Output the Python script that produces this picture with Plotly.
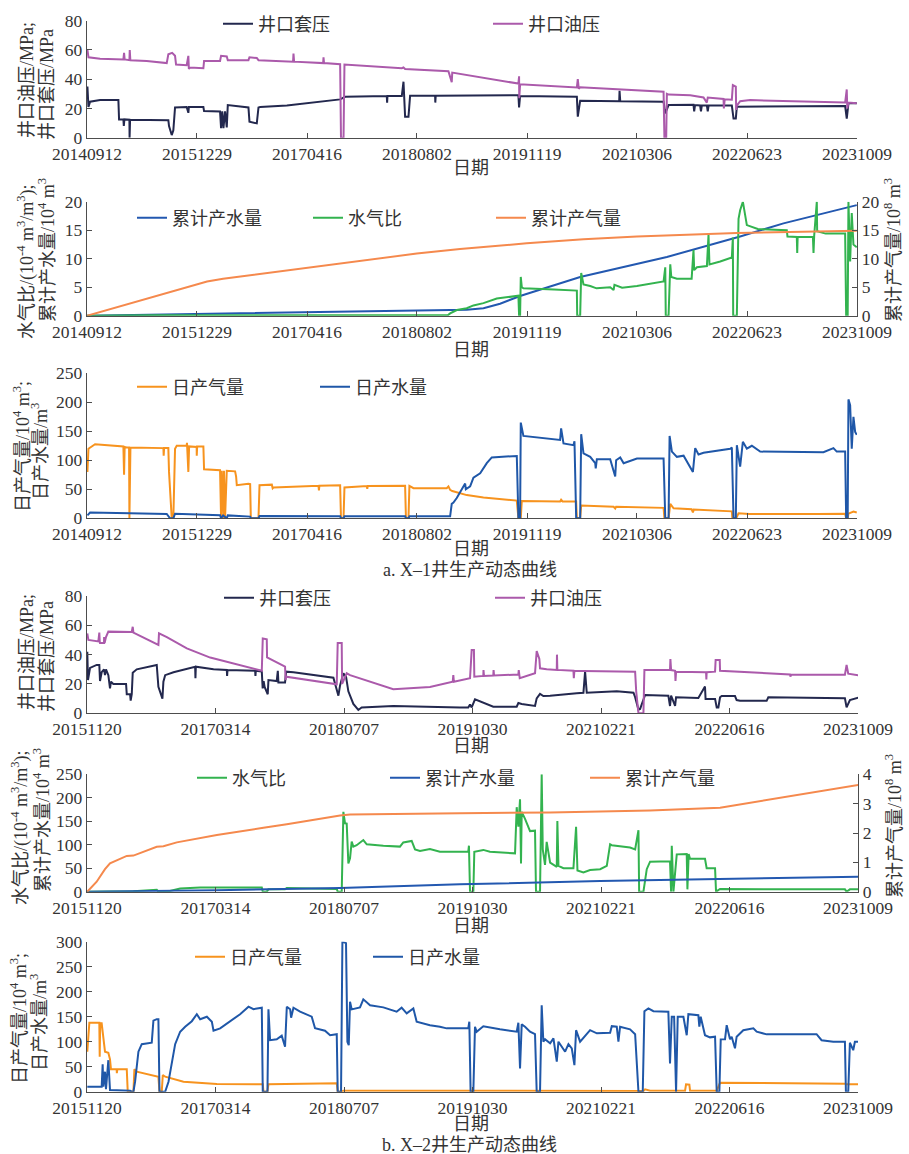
import plotly.graph_objects as go
from datetime import datetime

W, H = 909, 1154

# ---------------- tick labels ----------------
X1_TICKS = ["20140912", "20151229", "20170416", "20180802", "20191119", "20210306", "20220623", "20231009"]
X2_TICKS = ["20151120", "20170314", "20180707", "20191030", "20210221", "20220616", "20231009"]

# ---------------- X-1 well data (decimal year, value) ----------------
X1_CASING = [(2014.701, 35), (2014.713, 21), (2014.732, 24.6), (2014.85, 25.7), (2015.066, 25.7), (2015.074, 12.5),
             (2015.125, 12.5), (2015.13, 8), (2015.137, 12.5), (2015.196, 12.3), (2015.198, 0), (2015.204, 12.3),
             (2015.655, 12), (2015.663, 8), (2015.695, 1.8), (2015.714, 5), (2015.734, 20.7), (2015.871, 21),
             (2015.891, 17), (2015.897, 21), (2016.068, 21), (2016.076, 18.2), (2016.264, 18), (2016.276, 6.5),
             (2016.29, 18), (2016.304, 6.5), (2016.323, 18), (2016.343, 7), (2016.355, 22.3), (2016.598, 20.7),
             (2016.610, 11), (2016.696, 9.8), (2016.716, 20.7), (2016.736, 21), (2017.050, 22), (2017.678, 26.2),
             (2017.737, 28), (2018.228, 28.5), (2018.232, 24), (2018.236, 28.5), (2018.405, 28.5), (2018.425, 38.3),
             (2018.444, 14.4), (2018.484, 14.4), (2018.503, 28.7), (2018.798, 28.7), (2018.80, 24), (2018.805, 28.7),
             (2019.780, 29), (2019.788, 20.7), (2019.80, 28.5), (2020.468, 28), (2020.479, 14.4), (2020.507, 25.3),
             (2020.966, 25), (2020.970, 32), (2020.978, 25), (2021.489, 24.6), (2021.509, 16.6), (2021.548, 22.3),
             (2021.842, 22.5), (2021.85, 18), (2021.86, 22.3), (2021.92, 22), (2021.93, 18), (2021.94, 22),
             (2022.0, 22), (2022.01, 18), (2022.02, 22), (2022.294, 22), (2022.314, 13.2), (2022.341, 13.2),
             (2022.353, 21.2), (2023.630, 21.6), (2023.649, 13), (2023.669, 23.5), (2023.767, 23.5)]

X1_TUBING = [(2014.701, 60), (2014.713, 55), (2014.85, 54), (2015.125, 53.5), (2015.133, 58), (2015.14, 53.5),
             (2015.196, 53), (2015.200, 60), (2015.207, 53), (2015.4, 52.5), (2015.636, 51), (2015.655, 57),
             (2015.70, 58), (2015.734, 56), (2015.746, 50), (2015.871, 49.5), (2015.891, 56), (2015.897, 47),
             (2015.911, 48), (2016.068, 47.5), (2016.076, 52.4), (2016.264, 52.5), (2016.276, 56), (2016.343, 55.5),
             (2016.355, 53), (2016.598, 53), (2016.610, 55), (2016.696, 54.5), (2016.716, 53), (2017.123, 52),
             (2017.128, 57.5), (2017.135, 52), (2017.478, 51), (2017.482, 55), (2017.488, 51), (2017.678, 50.3),
             (2017.688, 0), (2017.718, 0), (2017.729, 50), (2018.405, 47.5), (2018.425, 48), (2018.444, 47),
             (2018.955, 45.5), (2018.994, 38), (2019.000, 44.5), (2019.1, 43.5), (2019.780, 37), (2019.788, 42),
             (2019.79, 27), (2019.80, 36.5), (2020.468, 34.3), (2020.479, 40), (2020.49, 33.5), (2020.507, 34.5),
             (2021.489, 31.4), (2021.499, 0), (2021.520, 0), (2021.528, 30), (2021.548, 29.5), (2021.803, 29),
             (2021.96, 27.5), (2021.999, 24), (2022.01, 27.5), (2022.196, 26.5), (2022.20, 20), (2022.21, 26.3),
             (2022.294, 26), (2022.306, 36), (2022.341, 35), (2022.345, 19), (2022.353, 22), (2022.392, 25),
             (2022.510, 25.7), (2023.630, 24), (2023.649, 33), (2023.655, 20), (2023.669, 24), (2023.767, 23.5)]

X1_CUM_GAS = [(2014.697, 0), (2015.758, 4.4), (2016.111, 6.0), (2016.30, 6.5), (2016.653, 7.2), (2016.735, 7.25),
              (2017.286, 8.4), (2017.997, 9.8), (2018.582, 10.9), (2019.092, 11.7), (2019.878, 12.7),
              (2020.546, 13.4), (2021.175, 13.9), (2022.353, 14.5), (2023.767, 14.9)]

X1_CUM_WATER = [(2014.697, 0), (2015.758, 0.25), (2017.286, 0.5), (2018.582, 0.85), (2018.975, 0.95),
                (2019.171, 1.05), (2019.368, 1.3), (2019.564, 2.1), (2019.8, 3.45), (2020.507, 6.8),
                (2021.528, 10.3), (2022.392, 13.9), (2022.903, 16.2), (2023.767, 19.4)]

X1_WGR = [(2014.697, 0), (2015.5, 0.1), (2017.0, 0.1), (2018.95, 0.1), (2018.975, 0.4), (2019.054, 1.0),
          (2019.171, 1.3), (2019.25, 1.8), (2019.368, 2.2), (2019.525, 3.0), (2019.780, 3.5), (2019.788, 0),
          (2019.80, 0), (2019.808, 6.8), (2019.82, 5.0), (2019.839, 4.8), (2020.2, 4.6), (2020.468, 4.4),
          (2020.472, 0), (2020.507, 0), (2020.519, 7.5), (2020.546, 5.5), (2020.625, 5.2), (2020.70, 4.8),
          (2020.86, 5.0), (2020.90, 4.5), (2020.91, 5.4), (2021.0, 4.9), (2021.175, 5.2), (2021.489, 6.0),
          (2021.509, 8.5), (2021.515, 0), (2021.548, 0), (2021.568, 9), (2021.58, 6.8), (2021.646, 6.5),
          (2021.82, 6.5), (2021.842, 11.5), (2021.85, 8.0), (2021.882, 8.5), (2022.0, 8.7), (2022.019, 14.2),
          (2022.03, 9.0), (2022.157, 9.5), (2022.294, 10.2), (2022.306, 13.7), (2022.31, 0), (2022.353, 0),
          (2022.373, 17), (2022.392, 18.5), (2022.424, 20), (2022.45, 17.5), (2022.471, 15.9), (2022.6, 15.2),
          (2022.942, 15), (2022.95, 13.9), (2023.06, 13.8), (2023.065, 11), (2023.07, 13.8), (2023.25, 13.8),
          (2023.257, 11), (2023.265, 14), (2023.296, 20), (2023.30, 14.8), (2023.40, 14.4), (2023.630, 14.4),
          (2023.642, 0), (2023.660, 0), (2023.669, 20), (2023.689, 9.5), (2023.708, 18), (2023.728, 12.5),
          (2023.767, 12)]

X1_DAILY_GAS = [(2014.701, 80), (2014.713, 120), (2014.791, 127.6), (2015.125, 124), (2015.133, 75), (2015.14, 123),
                (2015.164, 122), (2015.192, 122), (2015.196, 0), (2015.208, 122), (2015.597, 121), (2015.60, 108),
                (2015.605, 121), (2015.655, 121), (2015.663, 80), (2015.695, 0), (2015.714, 0), (2015.734, 120),
                (2015.754, 125), (2015.871, 125), (2015.875, 130), (2015.891, 80), (2015.90, 124), (2015.989, 123),
                (2015.99, 108), (2015.995, 124), (2016.068, 124), (2016.076, 84.5), (2016.264, 83), (2016.276, 0),
                (2016.284, 82), (2016.304, 0), (2016.31, 82), (2016.323, 0), (2016.343, 82), (2016.441, 81),
                (2016.453, 72), (2016.461, 57), (2016.598, 59.5), (2016.618, 59), (2016.626, 0), (2016.716, 0),
                (2016.728, 57), (2016.873, 58), (2016.883, 51.7), (2016.893, 53), (2017.423, 56), (2017.428, 48),
                (2017.433, 56), (2017.678, 57), (2017.688, 0), (2017.718, 0), (2017.729, 53), (2017.993, 55.5),
                (2017.998, 51), (2018.003, 55.5), (2018.444, 56), (2018.454, 0), (2018.484, 0), (2018.495, 56),
                (2018.543, 52), (2018.935, 52), (2018.955, 55), (2018.975, 49), (2019.0, 47), (2019.171, 40),
                (2019.368, 36), (2019.761, 30.5), (2019.780, 0), (2019.808, 0), (2019.820, 30), (2020.271, 29),
                (2020.283, 32), (2020.30, 29), (2020.460, 29), (2020.468, 0), (2020.507, 0), (2020.519, 22),
                (2020.9, 20), (2020.919, 17), (2020.93, 20), (2021.489, 18), (2021.499, 0), (2021.548, 0),
                (2021.568, 24.7), (2021.607, 17.2), (2021.82, 15.5), (2021.835, 10), (2021.845, 15), (2022.294, 12),
                (2022.30, 0), (2022.345, 0), (2022.373, 8.6), (2022.5, 7.5), (2023.3, 7.5), (2023.630, 7.8),
                (2023.642, 0), (2023.66, 0), (2023.669, 8), (2023.728, 11.5), (2023.767, 10)]

X1_DAILY_WATER = [(2014.701, 5), (2014.732, 9.8), (2015.2, 8.5), (2015.636, 7.5), (2015.675, 0), (2015.714, 0),
                  (2015.734, 8), (2016.264, 5.2), (2016.276, 0), (2016.30, 5), (2016.343, 0), (2016.355, 5),
                  (2016.618, 2.9), (2016.626, 0), (2016.716, 0), (2016.728, 4), (2017.678, 3.5), (2017.688, 0),
                  (2017.718, 0), (2017.729, 3.5), (2018.444, 3.5), (2018.454, 0), (2018.484, 0), (2018.495, 3.5),
                  (2018.975, 3.5), (2018.994, 25), (2019.014, 27), (2019.053, 35), (2019.152, 60), (2019.16, 50),
                  (2019.211, 55), (2019.250, 70), (2019.329, 77.6), (2019.368, 86), (2019.407, 95), (2019.466, 105),
                  (2019.564, 106), (2019.761, 107.5), (2019.780, 0), (2019.80, 0), (2019.808, 165), (2019.839, 142),
                  (2020.271, 135), (2020.283, 155), (2020.311, 129), (2020.428, 126), (2020.440, 133), (2020.46, 0),
                  (2020.507, 0), (2020.519, 145), (2020.546, 112), (2020.625, 106), (2020.684, 95), (2020.69, 86),
                  (2020.703, 102), (2020.86, 102), (2020.919, 72), (2020.93, 100), (2020.978, 105), (2021.018, 95),
                  (2021.175, 103), (2021.489, 103), (2021.509, 0), (2021.548, 0), (2021.560, 142), (2021.587, 115),
                  (2021.646, 106), (2021.725, 108), (2021.835, 80), (2021.862, 121), (2021.901, 110), (2021.960, 113),
                  (2022.275, 120), (2022.294, 122), (2022.314, 0), (2022.341, 0), (2022.353, 126), (2022.392, 89),
                  (2022.424, 132), (2022.471, 120), (2022.530, 125), (2022.628, 115), (2023.374, 114),
                  (2023.492, 121), (2023.531, 115), (2023.630, 115), (2023.642, 0), (2023.660, 0), (2023.669, 205),
                  (2023.689, 195), (2023.708, 120), (2023.728, 175), (2023.748, 149), (2023.767, 144)]

# ---------------- X-2 well data (decimal year, value) ----------------
X2_CASING = [(2015.888, 42), (2015.895, 22.7), (2015.916, 31), (2015.984, 33), (2016.011, 33), (2016.018, 22),
             (2016.035, 28), (2016.059, 30), (2016.069, 26), (2016.079, 30), (2016.103, 26), (2016.120, 17),
             (2016.13, 21.6), (2016.154, 20), (2016.284, 20), (2016.291, 13), (2016.325, 13), (2016.331, 8.6),
             (2016.342, 13), (2016.352, 27.7), (2016.393, 30), (2016.597, 33), (2016.614, 18), (2016.631, 15),
             (2016.655, 10), (2016.665, 21.6), (2016.683, 26), (2016.768, 28), (2016.938, 30.7), (2016.989, 31.8),
             (2016.992, 24), (2016.996, 31.8), (2017.177, 30), (2017.313, 29.5), (2017.316, 25.5), (2017.32, 29.5),
             (2017.603, 29), (2017.606, 25.5), (2017.61, 29), (2017.671, 28.5), (2017.675, 21.6), (2017.68, 17),
             (2017.69, 22), (2017.70, 18), (2017.732, 13), (2017.739, 22.7), (2017.824, 22), (2017.835, 29),
             (2017.841, 21), (2017.909, 21), (2017.920, 28.4), (2017.995, 28), (2018.404, 24.3), (2018.438, 15),
             (2018.455, 12), (2018.472, 19), (2018.506, 27.3), (2018.533, 25), (2018.557, 15), (2018.608, 6.4),
             (2018.659, 2.3), (2018.693, 4), (2019.017, 5), (2019.699, 4), (2019.784, 3.9), (2019.802, 6),
             (2019.819, 4), (2019.853, 9.5), (2019.938, 7), (2020.040, 4.5), (2020.279, 4.5), (2020.296, 7),
             (2020.330, 6.4), (2020.466, 5), (2020.483, 10.2), (2020.517, 13.2), (2020.551, 11.8), (2020.620, 12),
             (2020.892, 13.6), (2020.960, 14), (2020.977, 28.4), (2020.994, 14), (2021.301, 15), (2021.472, 14),
             (2021.489, 11), (2021.523, 2.5), (2021.540, 3), (2021.591, 12.5), (2021.829, 12), (2021.846, 5),
             (2021.857, 12), (2021.898, 5), (2021.908, 11), (2022.136, 10.5), (2022.204, 18.2), (2022.21, 9.8),
             (2022.307, 9.8), (2022.324, 4), (2022.341, 4), (2022.358, 10.9), (2022.375, 11.8), (2022.511, 11.8),
             (2022.528, 9), (2022.562, 8.6), (2022.835, 8.5), (2022.852, 10.9), (2023.636, 10.2), (2023.653, 4),
             (2023.687, 9), (2023.772, 10.7)]

X2_TUBING = [(2015.888, 54.5), (2015.899, 50), (2016.001, 49), (2016.011, 55), (2016.015, 49), (2016.018, 48),
             (2016.059, 48), (2016.06, 52), (2016.065, 48), (2016.079, 52), (2016.103, 55.7), (2016.342, 55.5),
             (2016.352, 59), (2016.359, 55), (2016.614, 46.6), (2016.62, 54.5), (2016.700, 52), (2016.904, 44.3),
             (2017.143, 38), (2017.671, 29), (2017.681, 51), (2017.722, 50.5), (2017.725, 38.2), (2017.909, 31.8),
             (2017.915, 22.7), (2017.920, 25), (2018.438, 19.8), (2018.448, 48), (2018.489, 48), (2018.493, 20),
             (2018.540, 27.3), (2018.574, 26), (2019.017, 16.4), (2019.392, 18), (2019.625, 21.5), (2019.631, 26),
             (2019.637, 21.5), (2019.699, 22.5), (2019.802, 23.9), (2019.819, 43.2), (2019.842, 43.2),
             (2019.846, 25), (2019.938, 25.5), (2019.94, 29.5), (2019.945, 25.5), (2020.040, 25.8), (2020.043, 29.5),
             (2020.048, 25.8), (2020.296, 26.5), (2020.30, 29.5), (2020.31, 24), (2020.466, 27.3), (2020.483, 42.5),
             (2020.510, 37), (2020.517, 30.7), (2020.585, 30), (2020.688, 29.6), (2020.690, 40), (2020.694, 29.6),
             (2020.858, 29), (2020.862, 24), (2020.868, 29), (2020.960, 28.8), (2021.489, 28.4), (2021.50, 15),
             (2021.523, 0), (2021.574, 0), (2021.584, 29.5), (2021.846, 29.5), (2021.850, 37), (2021.857, 29.5),
             (2021.898, 29), (2021.902, 22), (2021.908, 28.4), (2022.215, 28), (2022.218, 23), (2022.221, 28),
             (2022.307, 28.4), (2022.313, 36.4), (2022.355, 36.4), (2022.358, 29), (2023.074, 26.5), (2023.08, 25),
             (2023.085, 26.5), (2023.636, 26.3), (2023.653, 33), (2023.670, 27), (2023.772, 26)]

X2_CUM_GAS = [(2015.888, 0), (2015.984, 0.34), (2016.069, 0.77), (2016.120, 0.97), (2016.291, 1.22), (2016.359, 1.23),
              (2016.597, 1.53), (2016.665, 1.55), (2016.802, 1.68), (2017.211, 1.93), (2017.688, 2.18),
              (2017.927, 2.3), (2018.472, 2.6), (2018.574, 2.63), (2019.699, 2.67), (2020.620, 2.7),
              (2021.642, 2.77), (2022.358, 2.86), (2023.772, 3.64)]

X2_CUM_WATER = [(2015.888, 0), (2017.211, 3), (2018.472, 7.8), (2019.699, 15.6), (2021.131, 22.7), (2022.358, 27),
                (2023.772, 32)]

X2_WGR = [(2015.888, 0), (2016.359, 1), (2016.597, 4.3), (2016.614, 0), (2016.700, 0), (2016.768, 3), (2016.836, 7),
          (2017.040, 9.2), (2017.671, 9), (2017.681, 0), (2017.722, 0), (2017.739, 5), (2017.909, 5), (2017.927, 8),
          (2018.438, 6), (2018.448, 0), (2018.489, 0), (2018.506, 170), (2018.523, 145.6), (2018.540, 145),
          (2018.557, 60), (2018.574, 71), (2018.591, 106.5), (2018.608, 96), (2018.642, 99), (2018.710, 110),
          (2018.745, 101), (2018.915, 98), (2019.085, 96), (2019.119, 105), (2019.205, 108), (2019.239, 90),
          (2019.290, 86.6), (2019.392, 91), (2019.494, 85), (2019.699, 85), (2019.784, 85), (2019.791, 98),
          (2019.802, 0), (2019.836, 0), (2019.846, 85), (2019.938, 89), (2020.006, 85), (2020.262, 81.7),
          (2020.279, 180), (2020.296, 138.5), (2020.313, 197), (2020.323, 60), (2020.330, 170), (2020.364, 155),
          (2020.415, 129), (2020.466, 130), (2020.476, 0), (2020.517, 0), (2020.534, 250), (2020.545, 90),
          (2020.568, 57), (2020.585, 106), (2020.602, 80), (2020.620, 62), (2020.688, 53), (2020.694, 150.6),
          (2020.705, 55), (2020.756, 50), (2020.858, 50), (2020.885, 138), (2020.899, 45), (2020.960, 41),
          (2021.028, 46), (2021.131, 48), (2021.199, 55), (2021.233, 101), (2021.250, 99), (2021.437, 94),
          (2021.489, 90), (2021.523, 131), (2021.530, 0), (2021.574, 0), (2021.608, 48), (2021.642, 64),
          (2021.846, 65), (2021.857, 0), (2021.864, 98), (2021.881, 0), (2021.915, 79.5), (2022.017, 80),
          (2022.024, 5), (2022.037, 80), (2022.051, 70), (2022.204, 70), (2022.221, 50), (2022.307, 50),
          (2022.317, 0), (2022.358, 5.7), (2023.636, 5), (2023.653, 0), (2023.687, 5), (2023.772, 5)]

X2_DAILY_GAS = [(2015.888, 80), (2015.909, 138), (2016.011, 138), (2016.015, 70), (2016.02, 137), (2016.035, 137),
                (2016.045, 120), (2016.069, 80), (2016.103, 78), (2016.120, 64.7), (2016.130, 44.7), (2016.188, 45),
                (2016.19, 37), (2016.195, 45), (2016.291, 45), (2016.301, 0), (2016.359, 0), (2016.369, 45),
                (2016.393, 40), (2016.614, 30), (2016.625, 0), (2016.648, 0), (2016.659, 33.3), (2016.683, 30),
                (2016.870, 20), (2017.211, 15.3), (2017.681, 15), (2017.688, 0), (2017.729, 0), (2017.739, 15),
                (2018.438, 16.7), (2018.448, 0), (2018.489, 0), (2018.506, 2), (2019.699, 2), (2021.574, 1.3),
                (2021.591, 4.7), (2021.642, 2), (2022.0, 2), (2022.010, 14.7), (2022.044, 14), (2022.051, 2),
                (2022.324, 2), (2022.358, 18), (2023.636, 16), (2023.646, 15), (2023.772, 15)]

X2_DAILY_WATER = [(2015.888, 10), (2016.035, 10), (2016.045, 55), (2016.052, 10), (2016.069, 40), (2016.079, 5),
                  (2016.103, 63), (2016.120, 3.3), (2016.325, 2), (2016.342, 0), (2016.359, 0), (2016.376, 20),
                  (2016.410, 80), (2016.444, 95), (2016.546, 98), (2016.563, 142), (2016.597, 145), (2016.614, 145),
                  (2016.625, 0), (2016.683, 0), (2016.717, 20), (2016.751, 60), (2016.785, 95), (2016.836, 120),
                  (2016.887, 130), (2016.955, 141), (2017.006, 155), (2017.040, 145), (2017.109, 150),
                  (2017.160, 140), (2017.177, 122), (2017.245, 126.7), (2017.347, 140), (2017.449, 155),
                  (2017.535, 170), (2017.586, 165), (2017.671, 168), (2017.681, 0), (2017.729, 0), (2017.739, 165),
                  (2017.756, 103), (2017.824, 105), (2017.875, 112), (2017.909, 90), (2017.927, 170),
                  (2017.961, 165), (2017.971, 148), (2017.995, 168), (2018.063, 160), (2018.182, 150),
                  (2018.216, 127), (2018.318, 122), (2018.370, 113), (2018.438, 115), (2018.448, 0), (2018.482, 0),
                  (2018.496, 300), (2018.533, 297), (2018.547, 100), (2018.561, 93), (2018.574, 180),
                  (2018.591, 164.7), (2018.676, 168.7), (2018.710, 184.7), (2018.779, 173), (2018.915, 168.7),
                  (2019.051, 160), (2019.102, 168), (2019.154, 156.7), (2019.222, 166.7), (2019.256, 140),
                  (2019.392, 133), (2019.494, 130), (2019.563, 126.7), (2019.699, 126.7), (2019.784, 126.7),
                  (2019.795, 140), (2019.808, 0), (2019.836, 0), (2019.853, 130), (2019.870, 120), (2019.938, 131),
                  (2020.108, 124.7), (2020.279, 120), (2020.296, 138), (2020.313, 46.7), (2020.330, 134.7),
                  (2020.364, 130), (2020.415, 120), (2020.466, 115), (2020.483, 0), (2020.517, 0), (2020.534, 173),
                  (2020.551, 100), (2020.568, 105), (2020.620, 96.7), (2020.654, 106.7), (2020.688, 60),
                  (2020.705, 100), (2020.739, 90), (2020.773, 80), (2020.807, 95), (2020.841, 86.7), (2020.868, 53),
                  (2020.885, 123), (2020.926, 100), (2021.028, 123), (2021.097, 116.7), (2021.233, 118),
                  (2021.250, 131), (2021.301, 130), (2021.318, 100), (2021.335, 130), (2021.437, 124.7),
                  (2021.489, 115), (2021.523, 0), (2021.567, 0), (2021.584, 161), (2021.625, 166.7), (2021.676, 161),
                  (2021.829, 160), (2021.846, 56.7), (2021.864, 150), (2021.888, 150), (2021.908, 0), (2021.925, 150),
                  (2021.983, 150), (2022.017, 113), (2022.034, 155), (2022.136, 153), (2022.146, 130),
                  (2022.160, 150), (2022.204, 113), (2022.255, 108.7), (2022.307, 110), (2022.324, 0),
                  (2022.351, 0), (2022.365, 104.7), (2022.409, 105), (2022.426, 133), (2022.460, 105),
                  (2022.477, 110), (2022.511, 86.7), (2022.528, 110), (2022.596, 123), (2022.699, 126.7),
                  (2022.733, 120), (2022.835, 114.7), (2023.346, 115), (2023.397, 103), (2023.517, 100),
                  (2023.636, 100), (2023.646, 0), (2023.670, 0), (2023.687, 98), (2023.721, 83), (2023.738, 100),
                  (2023.772, 100)]

# ---------------- colours ----------------
C_CASING = "#23284e"
C_TUBING = "#ab5aab"
C_CUM_WATER = "#2358b0"
C_WGR = "#33b34f"
C_CUM_GAS = "#f5894d"
C_DGAS = "#f7931e"
C_DWATER = "#1f57a8"


def dt(v):
    y = int(v)
    s, e = datetime(y, 1, 1), datetime(y + 1, 1, 1)
    return s + (e - s) * (v - y)


def d8(s):
    return datetime(int(s[:4]), int(s[4:6]), int(s[6:]))


fig = go.Figure()


def add(series, name, color, xa, ya, leg):
    t, v = zip(*series)
    fig.add_trace(go.Scatter(x=[dt(a) for a in t], y=list(v), mode="lines", name=name,
                             line=dict(color=color, width=2), xaxis=xa, yaxis=ya, legend=leg,
                             showlegend=True))


add(X1_CASING, "井口套压", C_CASING, "x", "y", "legend")
add(X1_TUBING, "井口油压", C_TUBING, "x", "y", "legend2")
add(X1_CUM_WATER, "累计产水量", C_CUM_WATER, "x2", "y2", "legend3")
add(X1_WGR, "水气比", C_WGR, "x2", "y2", "legend4")
add(X1_CUM_GAS, "累计产气量", C_CUM_GAS, "x2", "y3", "legend5")
add(X1_DAILY_GAS, "日产气量", C_DGAS, "x3", "y4", "legend6")
add(X1_DAILY_WATER, "日产水量", C_DWATER, "x3", "y4", "legend7")
add(X2_CASING, "井口套压", C_CASING, "x4", "y5", "legend8")
add(X2_TUBING, "井口油压", C_TUBING, "x4", "y5", "legend9")
add(X2_WGR, "水气比", C_WGR, "x5", "y6", "legend10")
add(X2_CUM_WATER, "累计产水量", C_CUM_WATER, "x5", "y6", "legend11")
add(X2_CUM_GAS, "累计产气量", C_CUM_GAS, "x5", "y7", "legend12")
add(X2_DAILY_GAS, "日产气量", C_DGAS, "x6", "y8", "legend13")
add(X2_DAILY_WATER, "日产水量", C_DWATER, "x6", "y8", "legend14")

NUMF = dict(family="Liberation Serif, Times New Roman, serif", size=17.5, color="#333")
TXTF = dict(family="Liberation Serif, Noto Sans CJK SC", size=18, color="#333")
AX = dict(showline=True, linecolor="#4d4d4d", linewidth=1.3, ticks="inside", ticklen=5, tickwidth=1.2,
          tickcolor="#4d4d4d", showgrid=False, zeroline=False, tickfont=NUMF, fixedrange=True,
          automargin=False)

# panel vertical extents in px (top, bottom)
PANELS = [(20.7, 137.7), (201.7, 315.7), (373.3, 518.3), (596.0, 713.3), (774.3, 891.7), (941.7, 1091.7)]


def ydom(i):
    t, b = PANELS[i]
    return [1 - b / H, 1 - t / H]


layout = dict(width=W, height=H, margin=dict(l=0, r=0, t=0, b=0, pad=0, autoexpand=False), autosize=False,
              paper_bgcolor="white", plot_bgcolor="white", showlegend=True)

xnames = ["xaxis", "xaxis2", "xaxis3", "xaxis4", "xaxis5", "xaxis6"]
xanch = ["y", "y2", "y4", "y5", "y6", "y8"]
for i, (xn, ya) in enumerate(zip(xnames, xanch)):
    ticks = X1_TICKS if i < 3 else X2_TICKS
    right = 857 if i < 3 else 858
    layout[xn] = dict(AX, type="date", domain=[87 / W, right / W], anchor=ya,
                      range=[d8(ticks[0]), d8(ticks[-1])], tickmode="array",
                      tickvals=[d8(s) for s in ticks], ticktext=ticks)

layout["yaxis"] = dict(AX, domain=ydom(0), anchor="x", range=[0, 80], dtick=20)
layout["yaxis2"] = dict(AX, domain=ydom(1), anchor="x2", range=[0, 20], dtick=5)
layout["yaxis3"] = dict(AX, domain=ydom(1), anchor="x2", overlaying="y2", side="right", range=[0, 20], dtick=5)
layout["yaxis4"] = dict(AX, domain=ydom(2), anchor="x3", range=[0, 250], dtick=50)
layout["yaxis5"] = dict(AX, domain=ydom(3), anchor="x4", range=[0, 80], dtick=20)
layout["yaxis6"] = dict(AX, domain=ydom(4), anchor="x5", range=[0, 250], dtick=50)
layout["yaxis7"] = dict(AX, domain=ydom(4), anchor="x5", overlaying="y6", side="right", range=[0, 4], dtick=1)
layout["yaxis8"] = dict(AX, domain=ydom(5), anchor="x6", range=[0, 300], dtick=50)

# legends: (line start px, centre y px)
LEG_POS = {"legend": (223, 24), "legend2": (493, 24),
           "legend3": (137, 218), "legend4": (313, 218), "legend5": (496, 218),
           "legend6": (137, 387), "legend7": (320, 387),
           "legend8": (224, 598), "legend9": (495, 598),
           "legend10": (197, 778), "legend11": (390, 778), "legend12": (590, 778),
           "legend13": (195, 957), "legend14": (373, 957)}
for k, (lx, ly) in LEG_POS.items():
    layout[k] = dict(x=(lx - 5) / W, y=1 - ly / H, xanchor="left", yanchor="middle", orientation="h",
                     bgcolor="rgba(0,0,0,0)", borderwidth=0, font=TXTF, itemwidth=30)

fig.update_layout(**layout)


def ann(text, xp, yp, angle=0, size=18):
    fig.add_annotation(text=text, x=xp / W, y=1 - yp / H, xref="paper", yref="paper", showarrow=False,
                       textangle=angle, xanchor="center", yanchor="middle",
                       font=dict(TXTF, size=size))


# y-axis titles
ann("井口油压/MPa;", 27, 80, -90)
ann("井口套压/MPa", 47, 85, -90)
ann("水气比/(10<sup>-4</sup> m<sup>3</sup>/m<sup>3</sup>);", 26, 262, -90)
ann("累计产水量/10<sup>4</sup> m<sup>3</sup>", 47, 250, -90)
ann("累计产气量/10<sup>8</sup> m<sup>3</sup>", 893, 250, -90)
ann("日产气量/10<sup>4</sup> m<sup>3</sup>;", 21, 447, -90)
ann("日产水量/m<sup>3</sup>", 39, 452, -90)
ann("井口油压/MPa;", 27, 652, -90)
ann("井口套压/MPa", 47, 657, -90)
ann("水气比/(10<sup>-4</sup> m<sup>3</sup>/m<sup>3</sup>);", 20, 828, -90)
ann("累计产水量/10<sup>4</sup> m<sup>3</sup>", 41, 820, -90)
ann("累计产气量/10<sup>8</sup> m<sup>3</sup>", 893, 826, -90)
ann("日产气量/10<sup>4</sup> m<sup>3</sup>;", 18, 1019, -90)
ann("日产水量/m<sup>3</sup>", 38, 1023, -90)

# x-axis titles
for yy in (168, 350, 549, 746, 926, 1124):
    ann("日期", 471, yy)

# captions
ann("a. X–1井生产动态曲线", 470, 570)
ann("b. X–2井生产动态曲线", 470, 1145)

fig.write_html("out.html", config={"displayModeBar": False, "staticPlot": False},
               post_script="document.body.style.margin='0';document.body.style.padding='0';"
                           "document.documentElement.style.overflow='hidden';")
